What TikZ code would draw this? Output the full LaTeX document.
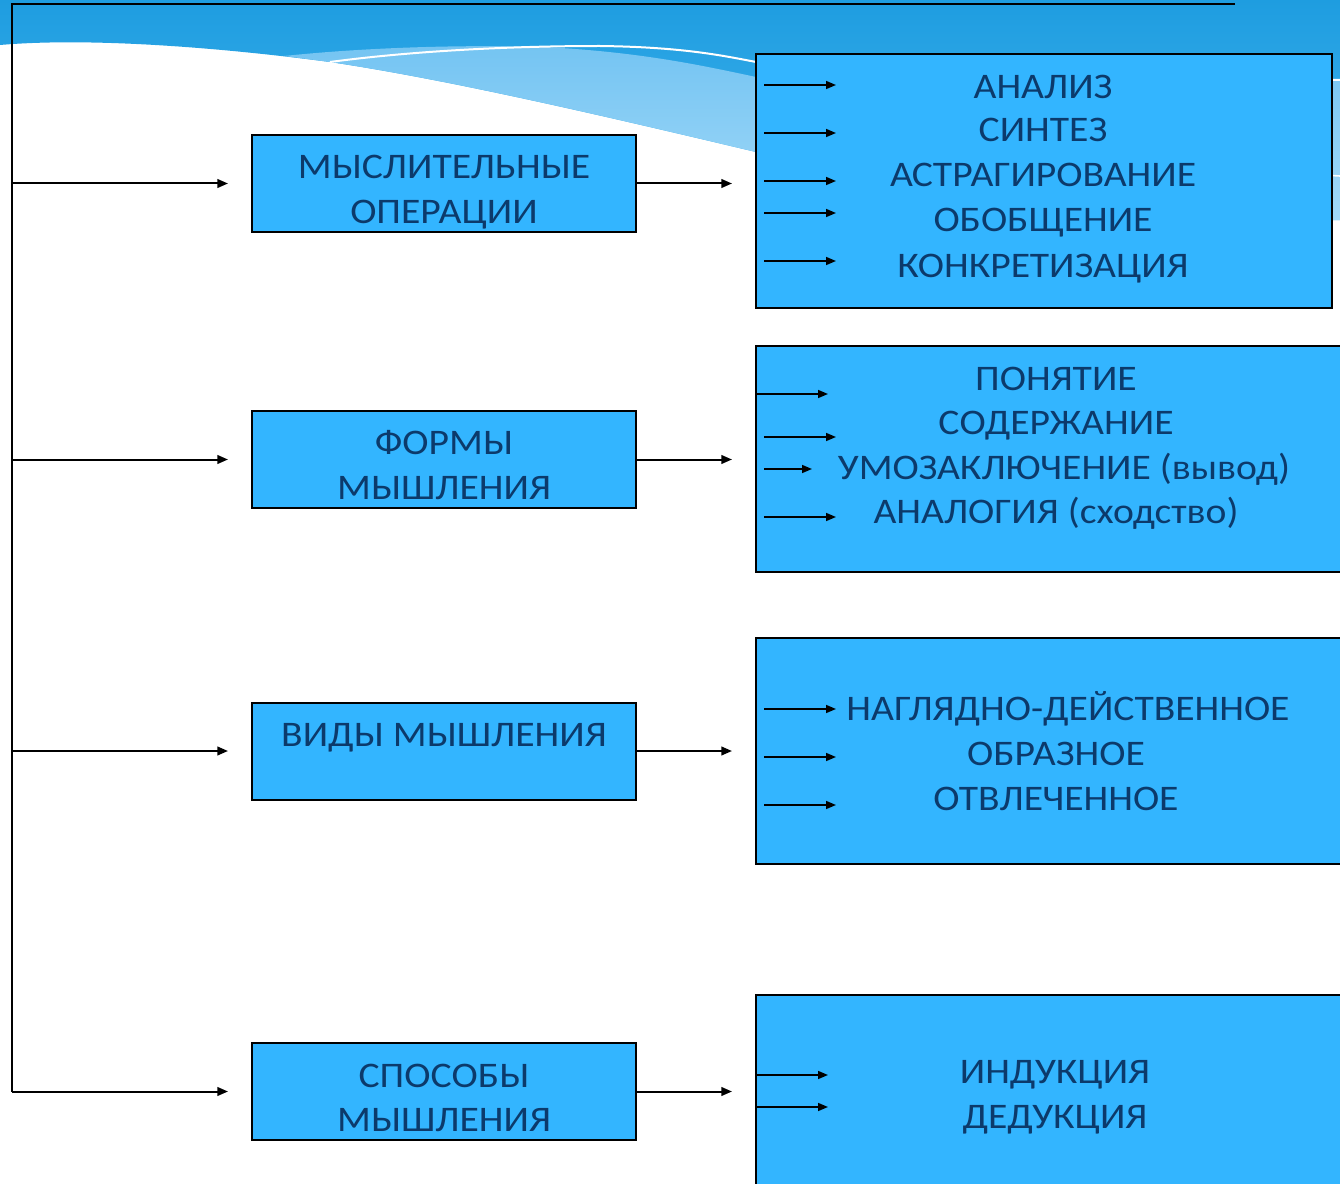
\documentclass[tikz,border=0pt]{standalone}
\usepackage{fontspec}
\setmainfont{Carlito}[FakeStretch=1.1]
\usetikzlibrary{arrows.meta}
\definecolor{boxfill}{HTML}{33B5FF}
\definecolor{txt}{HTML}{0C3A6B}
\definecolor{bandtop}{HTML}{1E9DE0}
\definecolor{bandbot}{HTML}{45B4EE}
\definecolor{lightb}{HTML}{74C4F2}
\definecolor{lightb2}{HTML}{A2D9F8}
\begin{document}
\begin{tikzpicture}[x=0.75pt,y=-0.75pt,
  box/.style={draw=black, line width=1.5pt, fill=boxfill, rectangle, inner sep=0pt},
  lbox/.style={box, minimum width=288pt, minimum height=72.75pt},
  rbox/.style={box, minimum width=445.5pt, minimum height=169.5pt},
  lab/.style={anchor=base, inner sep=0pt, text=txt, font=\fontsize{27}{32}\selectfont},
  conn/.style={line width=1.5pt, -{Triangle[length=8pt,width=6.5pt]}},
  inarr/.style={line width=1.2pt, -{Triangle[length=7.5pt,width=6pt]}},
  rule/.style={line width=1.7pt}]
\useasboundingbox (0,0) rectangle (1340,1184);
\clip (0,0) rectangle (1340,1184);
\fill[white] (0,0) rectangle (1340,1184);
% decorative background band
\shade[top color=bandtop, bottom color=bandbot]
  (0,0) -- (1340,0) -- (1340,220)
  .. controls (1200,222) and (1000,210) .. (756,152)
  .. controls (600,115) and (450,80) .. (330,62)
  .. controls (200,45) and (80,38) .. (0,45) -- cycle;
\shade[top color=lightb, bottom color=lightb2]
  (284,56) .. controls (380,46) and (480,45) .. (544,47)
  .. controls (640,52) and (700,65) .. (756,77)
  .. controls (1000,95) and (1200,85) .. (1340,80) -- (1340,220)
  .. controls (1200,222) and (1000,210) .. (756,152)
  .. controls (600,115) and (450,80) .. (330,62) -- cycle;
\draw[white, line width=1.5pt] (330,62) .. controls (420,50) and (520,46) .. (600,46)
  .. controls (680,47) and (720,55) .. (756,62) .. controls (1000,80) and (1200,78) .. (1340,80);
\draw[white, line width=1.2pt] (756,110) .. controls (1000,150) and (1200,168) .. (1340,176);

% main rules
\coordinate (top) at (12,4);
\coordinate (topR) at (1235,4);
\coordinate (bot) at (12,1091.5);
\draw[rule] (topR) -- (top) -- (bot);

% left boxes
\node[lbox] (L1) at (444,183.5) {};
\node[lbox] (L2) at (444,459.5) {};
\node[lbox] (L3) at (444,751) {};
\node[lbox] (L4) at (444,1091.5) {};

% right boxes
\node[box, minimum width=432pt, minimum height=190.5pt] (R1) at (1044,181) {};
\node[rbox] (R2) at (1053,459) {};
\node[rbox] (R3) at (1053,751) {};
\node[box, minimum width=445.5pt, minimum height=157.5pt] (R4) at (1053,1100) {};

% connectors
\foreach \n/\y in {1/183.5,2/459.5,3/751,4/1091.5}{
  \coordinate (s\n) at (12,\y);
  \coordinate (e\n) at (228,\y);
  \coordinate (f\n) at (732,\y);
  \draw[conn] (s\n) -- (e\n);
  \draw[conn] (L\n.east |- s\n) -- (f\n);
}

% inner arrows
\foreach \y [count=\i] in {85,133,181,213,261}{
  \coordinate (pa\i) at (764,\y); \coordinate (pb\i) at (836,\y);
  \draw[inarr] (pa\i) -- (pb\i);
}
\coordinate (qa1) at (756,394);  \coordinate (qb1) at (828,394);
\coordinate (qa2) at (764,437);  \coordinate (qb2) at (836,437);
\coordinate (qa3) at (764,469);  \coordinate (qb3) at (812,469);
\coordinate (qa4) at (764,517);  \coordinate (qb4) at (836,517);
\foreach \i in {1,...,4}{ \draw[inarr] (qa\i) -- (qb\i); }
\foreach \y [count=\i] in {709,757,805}{
  \coordinate (ra\i) at (764,\y); \coordinate (rb\i) at (836,\y);
  \draw[inarr] (ra\i) -- (rb\i);
}
\foreach \y [count=\i] in {1075,1107}{
  \coordinate (sa\i) at (756,\y); \coordinate (sb\i) at (828,\y);
  \draw[inarr] (sa\i) -- (sb\i);
}

% left labels
\node[lab] (l1a) at (444,178.5) {МЫСЛИТЕЛЬНЫЕ};
\node[lab] (l1b) at (444,223.5) {ОПЕРАЦИИ};
\node[lab] (l2a) at (444,454) {ФОРМЫ};
\node[lab] (l2b) at (444,499) {МЫШЛЕНИЯ};
\node[lab] (l3a) at (444,746) {ВИДЫ МЫШЛЕНИЯ};
\node[lab] (l4a) at (444,1087) {СПОСОБЫ};
\node[lab] (l4b) at (444,1131.5) {МЫШЛЕНИЯ};

% right labels
\node[lab] (r1a) at (1043,98.5) {АНАЛИЗ};
\node[lab] (r1b) at (1043,142) {СИНТЕЗ};
\node[lab] (r1c) at (1043,187) {АСТРАГИРОВАНИЕ};
\node[lab] (r1d) at (1043,232) {ОБОБЩЕНИЕ};
\node[lab] (r1e) at (1043,277) {КОНКРЕТИЗАЦИЯ};

\node[lab] (r2a) at (1056,390) {ПОНЯТИЕ};
\node[lab] (r2b) at (1056,434) {СОДЕРЖАНИЕ};
\node[lab] (r2c) at (1064,479) {УМОЗАКЛЮЧЕНИЕ (вывод)};
\node[lab] (r2d) at (1056,523.5) {АНАЛОГИЯ (сходство)};

\node[lab] (r3a) at (1068,720) {НАГЛЯДНО-ДЕЙСТВЕННОЕ};
\node[lab] (r3b) at (1056,765) {ОБРАЗНОЕ};
\node[lab] (r3c) at (1056,810) {ОТВЛЕЧЕННОЕ};

\node[lab] (r4a) at (1055,1083) {ИНДУКЦИЯ};
\node[lab] (r4b) at (1055,1128) {ДЕДУКЦИЯ};
\end{tikzpicture}
\end{document}
